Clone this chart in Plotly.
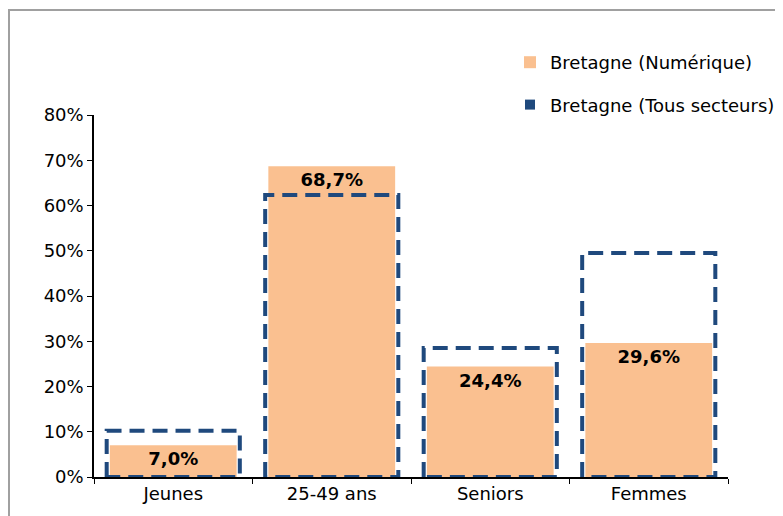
import plotly.graph_objects as go

categories = ["Jeunes", "25-49 ans", "Seniors", "Femmes"]
numerique = [7.0, 68.7, 24.4, 29.6]
tous_secteurs = [10.2, 62.3, 28.5, 49.5]
y_ticks = [0, 10, 20, 30, 40, 50, 60, 70, 80]
y_tick_labels = [f"{v}%" for v in y_ticks]

ORANGE = "#FAC090"
BLUE = "#1F497D"
FONT = "DejaVu Sans, Liberation Sans, Arial, sans-serif"
FS = 18

W, H = 783, 516
L, T, PW, PH = 86, 107, 634, 362

fig = go.Figure()

fig.add_trace(go.Bar(
    x=categories, y=numerique, name="Bretagne (Numérique)",
    marker=dict(color=ORANGE, line=dict(width=0)),
    width=0.8,
    texttemplate="%{y:.1f}%", textposition="inside", insidetextanchor="end",
    textfont=dict(family=FONT, size=FS, color="black", weight="bold"),
    constraintext="none", cliponaxis=False,
    legendgroup="a", legendrank=1,
))

# dashed outlines built from the data values, on an overlaid numeric axis
half = 0.42
xs, ys = [], []
for i, v in enumerate(tous_secteurs):
    xs += [i - half, i - half, i + half, i + half, i - half, None]
    ys += [0, v, v, 0, 0, None]
fig.add_trace(go.Scatter(
    x=xs, y=ys, xaxis="x2", mode="lines",
    line=dict(color=BLUE, width=4, dash="15px,8px"),
    showlegend=False, hoverinfo="skip", legendgroup="b",
))
fig.add_trace(go.Scatter(
    x=[None], y=[None], mode="markers", name="Bretagne (Tous secteurs)",
    marker=dict(symbol="square", color=BLUE, size=10),
    legendgroup="b", legendrank=2,
))

fig.update_layout(
    width=W, height=H,
    margin=dict(l=L, r=W - L - PW, t=T, b=H - T - PH, autoexpand=False),
    paper_bgcolor="white", plot_bgcolor="white",
    separators=", ",
    font=dict(family=FONT, size=FS, color="black"),
    showlegend=True,
    legend=dict(
        xref="container", yref="container", x=502 / W, y=1 - 36 / H,
        xanchor="left", yanchor="top",
        font=dict(family=FONT, size=FS, color="black"),
        tracegroupgap=16, bgcolor="rgba(0,0,0,0)",
    ),
    barmode="overlay",
    xaxis=dict(
        type="category", tickson="boundaries", ticks="outside", ticklen=5,
        tickcolor="black", showline=True, linecolor="black", linewidth=1.5,
        showgrid=False, range=[-0.5, 3.5],
        tickfont=dict(family=FONT, size=FS, color="black"),
    ),
    xaxis2=dict(
        overlaying="x", range=[-0.5, 3.5], visible=False,
    ),
    yaxis=dict(
        range=[0, 80], tickvals=y_ticks, ticktext=y_tick_labels,
        ticks="outside", ticklen=5, tickcolor="black",
        showline=True, linecolor="black", linewidth=1.5,
        showgrid=False, zeroline=False,
        tickfont=dict(family=FONT, size=FS, color="black"),
    ),
    shapes=[dict(
        type="rect", xref="paper", yref="paper",
        x0=(1 - L) / PW, x1=1.5, y0=-0.5, y1=1 + (T - 2) / PH,
        line=dict(color="#A0A0A0", width=2), fillcolor="rgba(0,0,0,0)",
        layer="below",
    )],
)

fig.write_html("out.html")
